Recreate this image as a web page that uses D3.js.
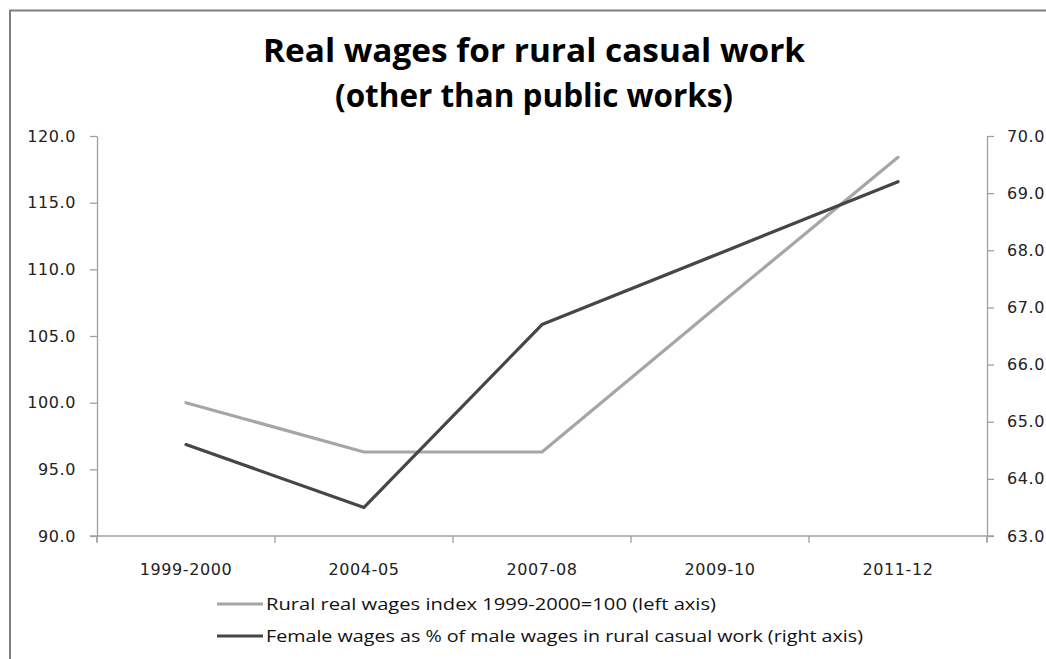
<!DOCTYPE html>
<html>
<head>
<meta charset="utf-8">
<script src="https://cdn.jsdelivr.net/npm/d3@7/dist/d3.min.js"></script>
<style>
  html, body { margin: 0; padding: 0; background: #fff; }
  svg { display: block; }
</style>
</head>
<body>
<svg id="chart" width="1046" height="659"></svg>
<script>
const categories = ["1999-2000", "2004-05", "2007-08", "2009-10", "2011-12"];
const ruralIndex = [100.0, 96.3, 96.3, 107.4, 118.4];
const femaleShare = [64.6, 63.5, 66.7, 67.95, 69.2];
const leftTicks = [90, 95, 100, 105, 110, 115, 120];
const rightTicks = [63, 64, 65, 66, 67, 68, 69, 70];
const titleLines = ["Real wages for rural casual work", "(other than public works)"];
const legendLabels = [
  "Rural real wages index 1999-2000=100 (left axis)",
  "Female wages as % of male wages in rural casual work (right axis)"
];

const svg = d3.select("#chart");
const axisColor = "#a0a0a0";
const tickFont = "DejaVu Sans, Verdana, sans-serif";
const labelFont = "'Open Sans', Carlito, Calibri, sans-serif";

// frame
svg.append("line").attr("x1", 9).attr("x2", 1046).attr("y1", 10.5).attr("y2", 10.5)
  .attr("stroke", "#7f7f7f").attr("stroke-width", 2);
svg.append("line").attr("x1", 10).attr("x2", 10).attr("y1", 10).attr("y2", 659)
  .attr("stroke", "#7f7f7f").attr("stroke-width", 2);

// title
const titleWidths = [542, 398];
titleLines.forEach((t, i) => {
  svg.append("text").attr("x", 534).attr("y", 62 + i * 45)
    .attr("text-anchor", "middle")
    .attr("font-family", labelFont).attr("font-weight", "bold")
    .attr("font-size", 33).attr("fill", "#000")
    .attr("textLength", titleWidths[i]).attr("lengthAdjust", "spacingAndGlyphs")
    .text(t);
});

const x = d3.scaleBand().domain(categories).range([97, 987]);
const yL = d3.scaleLinear().domain([90, 120]).range([536, 136]);
const yR = d3.scaleLinear().domain([63, 70]).range([536, 136]);

function styleAxis(g) {
  g.select(".domain").attr("stroke", axisColor).attr("stroke-width", 1.3);
  g.selectAll(".tick line").attr("stroke", axisColor).attr("stroke-width", 1.3);
  g.selectAll(".tick text").attr("font-family", tickFont).attr("font-size", 16)
    .attr("fill", "#222").attr("letter-spacing", 0.6);
}

// left axis
const gL = svg.append("g").attr("transform", "translate(97,0)")
  .call(d3.axisLeft(yL).tickValues(leftTicks).tickFormat(d3.format(".1f"))
    .tickSizeInner(7).tickSizeOuter(0).tickPadding(14));
styleAxis(gL);

// right axis
const gR = svg.append("g").attr("transform", "translate(987,0)")
  .call(d3.axisRight(yR).tickValues(rightTicks).tickFormat(d3.format(".1f"))
    .tickSizeInner(7).tickSizeOuter(0).tickPadding(13));
styleAxis(gR);

// x axis with ticks at band boundaries
const gX = svg.append("g").attr("transform", "translate(0,536)");
gX.append("line").attr("x1", 90).attr("x2", 994).attr("y1", 0).attr("y2", 0)
  .attr("stroke", axisColor).attr("stroke-width", 1.3);
const bounds = categories.map(c => x(c)).concat([x(categories[categories.length - 1]) + x.bandwidth()]);
gX.selectAll("line.b").data(bounds).join("line").attr("class", "b")
  .attr("x1", d => d).attr("x2", d => d).attr("y1", 0).attr("y2", 7)
  .attr("stroke", axisColor).attr("stroke-width", 1.3);
gX.selectAll("text").data(categories).join("text")
  .attr("x", d => x(d) + x.bandwidth() / 2).attr("y", 39)
  .attr("text-anchor", "middle").attr("font-family", tickFont).attr("font-size", 16)
  .attr("letter-spacing", 0.6).attr("fill", "#222").text(d => d);

svg.append("line").attr("x1", 97).attr("x2", 97).attr("y1", 536).attr("y2", 542)
  .attr("stroke", axisColor).attr("stroke-width", 1.3);
svg.append("line").attr("x1", 987).attr("x2", 987).attr("y1", 536).attr("y2", 542)
  .attr("stroke", axisColor).attr("stroke-width", 1.3);

const cx = d => x(d) + x.bandwidth() / 2;
const lineL = d3.line().x((d, i) => cx(categories[i])).y(d => yL(d));
const lineR = d3.line().x((d, i) => cx(categories[i])).y(d => yR(d));

const grey = "#a6a6a6", dark = "#464646";
svg.append("path").datum(ruralIndex).attr("d", lineL)
  .attr("fill", "none").attr("stroke", grey).attr("stroke-width", 3.2)
  .attr("stroke-linejoin", "round").attr("stroke-linecap", "round");
svg.append("path").datum(femaleShare).attr("d", lineR)
  .attr("fill", "none").attr("stroke", dark).attr("stroke-width", 3.2)
  .attr("stroke-linejoin", "round").attr("stroke-linecap", "round");

// legend
const legendColors = [grey, dark];
const legendWidths = [450, 597];
legendLabels.forEach((t, i) => {
  const ly = 604 + i * 32;
  svg.append("line").attr("x1", 217).attr("x2", 263).attr("y1", ly).attr("y2", ly)
    .attr("stroke", legendColors[i]).attr("stroke-width", 3.2);
  svg.append("text").attr("x", 266).attr("y", ly + 6)
    .attr("font-family", labelFont).attr("font-size", 16.5).attr("fill", "#111")
    .attr("textLength", legendWidths[i]).attr("lengthAdjust", "spacingAndGlyphs")
    .text(t);
});
</script>
</body>
</html>
